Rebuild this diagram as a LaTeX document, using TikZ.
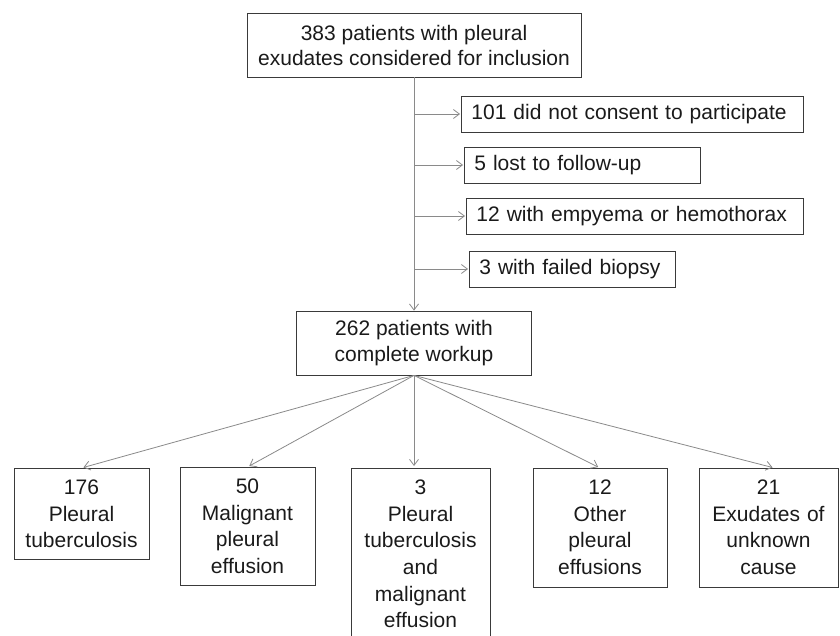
\documentclass[tikz,border=0pt]{standalone}
\usepackage{fontspec}
\setmainfont{Liberation Sans}
\usetikzlibrary{arrows.meta}
\definecolor{boxc}{HTML}{3A3A3A}
\definecolor{arrc}{HTML}{8A8A8A}
\definecolor{txtc}{HTML}{1A1A1A}
\begin{document}
\begin{tikzpicture}[x=1pt,y=-1pt,
  font=\fontsize{21}{26}\selectfont,
  box/.style={draw=boxc, line width=0.8pt, text=txtc, inner sep=0pt},
  sbox/.style={box, anchor=west, align=left, inner xsep=10pt, minimum height=36pt},
  bbox/.style={box, anchor=north, align=center, inner xsep=0pt, inner ysep=11pt,
               font=\fontsize{21}{26.67}\selectfont},
  arr/.style={draw=arrc, line width=0.8pt, -{Straight Barb[length=6pt,width=9pt]}}]
\useasboundingbox (0,0) rectangle (840,636);

\node[box, minimum width=334pt, minimum height=64pt, align=center,
      font=\fontsize{21}{25}\selectfont] (top) at (414,45)
  {383 patients with pleural\\exudates considered for inclusion};
\node[box, minimum width=235pt, minimum height=64pt, align=center] (mid) at (414,343)
  {262 patients with\\complete workup};

\node[sbox, text width=322pt] (s1) at (461,114) {101 did not consent to participate};
\node[sbox, text width=216pt] (s2) at (464,165) {5 lost to follow-up};
\node[sbox, text width=317pt] (s3) at (466,216) {12 with empyema or hemothorax};
\node[sbox, text width=186pt] (s4) at (469,269) {3 with failed biopsy};

\draw[arr] (top.south) -- (mid.north);
\foreach \i in {1,...,4}{
  \coordinate (j\i) at (top.south |- s\i.west);
  \draw[arr, shorten >=1pt] (j\i) -- (s\i.west);
}

\node[bbox, text width=135pt, text height=15pt, text depth=54pt] (b1) at (81.5,468) {176\\Pleural\\tuberculosis};
\node[bbox, text width=135pt, text height=15pt, text depth=81pt] (b2) at (247.5,467) {50\\Malignant\\pleural\\effusion};
\node[bbox, text width=139pt, text height=15pt, text depth=200pt] (b3) at (420.5,468) {3\\Pleural\\tuberculosis\\and\\malignant\\effusion};
\node[bbox, text width=134pt, text height=15pt, text depth=82pt] (b4) at (600,468) {12\\Other\\pleural\\effusions};
\node[bbox, text width=139pt, text height=15pt, text depth=82pt] (b5) at (768.5,468) {21\\Exudates of\\unknown\\cause};

\draw[arr, shorten >=2pt] (mid.south) -- (b1.north);
\draw[arr, shorten >=2pt] (mid.south) -- (b2.north);
\draw[arr, shorten >=2pt] (mid.south) -- (mid.south |- b3.north);
\draw[arr, shorten >=2pt] (mid.south) -- (b4.north);
\draw[arr, shorten >=2pt] (mid.south) -- ([xshift=6pt]b5.north);
\end{tikzpicture}
\end{document}
